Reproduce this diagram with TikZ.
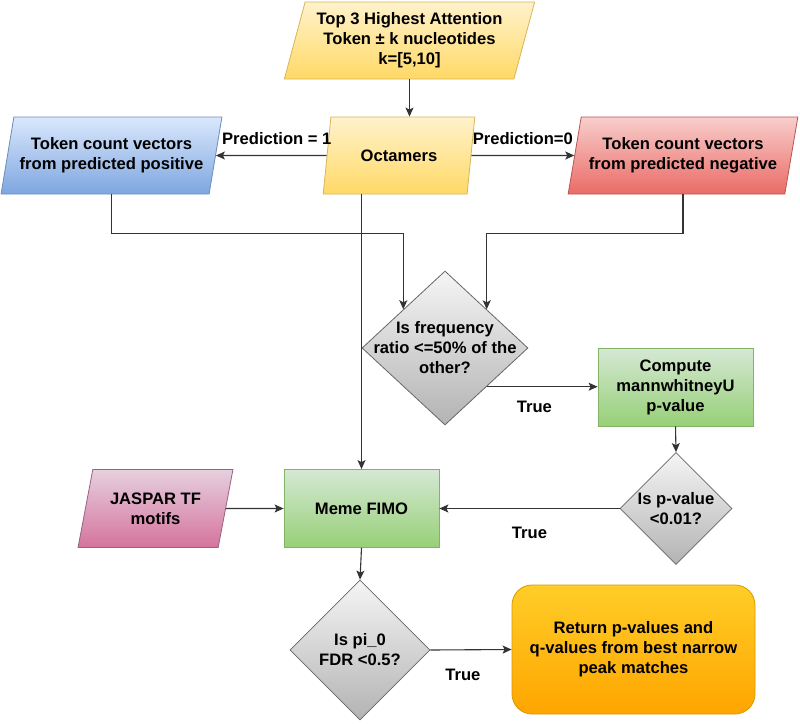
\documentclass[tikz,border=0pt]{standalone}
\usepackage{fontspec}
\setmainfont{Liberation Sans}
\usetikzlibrary{shapes.geometric}
\usetikzlibrary{arrows.meta}
\definecolor{yelTop}{HTML}{FFF2CC}
\definecolor{yelBot}{HTML}{FFD966}
\definecolor{yelLine}{HTML}{D6B656}
\definecolor{bluTop}{HTML}{DAE8FC}
\definecolor{bluBot}{HTML}{7EA6E0}
\definecolor{bluLine}{HTML}{6C8EBF}
\definecolor{redTop}{HTML}{F8CECC}
\definecolor{redBot}{HTML}{EA6B66}
\definecolor{redLine}{HTML}{B85450}
\definecolor{grnTop}{HTML}{D5E8D4}
\definecolor{grnBot}{HTML}{97D077}
\definecolor{grnLine}{HTML}{82B366}
\definecolor{gryTop}{HTML}{F5F5F5}
\definecolor{gryBot}{HTML}{B3B3B3}
\definecolor{gryLine}{HTML}{666666}
\definecolor{pnkTop}{HTML}{E6D0DE}
\definecolor{pnkBot}{HTML}{D5739D}
\definecolor{pnkLine}{HTML}{996185}
\definecolor{orgTop}{HTML}{FFCD28}
\definecolor{orgBot}{HTML}{FFA500}
\definecolor{orgLine}{HTML}{D79B00}

\begin{document}
\begin{tikzpicture}[x=1pt,y=-1pt,
  font=\bfseries\fontsize{16.6}{20}\selectfont,
  box/.style={draw, line width=0.8pt, align=center, inner sep=1pt},
  io/.style={box, trapezium, trapezium left angle=72, trapezium right angle=108,
    trapezium stretches=true, minimum height=77},
  proc/.style={box, rectangle, minimum width=155, minimum height=78},
  decision/.style={draw=gryLine, line width=0.8pt, diamond, top color=gryTop,
    bottom color=gryBot, inner sep=0pt},
  yellow/.style={top color=yelTop, bottom color=yelBot, draw=yelLine},
  blue/.style={top color=bluTop, bottom color=bluBot, draw=bluLine},
  red/.style={top color=redTop, bottom color=redBot, draw=redLine},
  green/.style={top color=grnTop, bottom color=grnBot, draw=grnLine},
  pink/.style={top color=pnkTop, bottom color=pnkBot, draw=pnkLine},
  orange/.style={top color=orgTop, bottom color=orgBot, draw=orgLine},
  lbl/.style={inner sep=0pt, align=center},
  flow/.style={-{Stealth[length=9pt,width=8pt,inset=2pt]}, line width=1.1pt, draw=black!80}]
\useasboundingbox (0,0) rectangle (800,723);

\node [io, yellow, minimum width=251] (top) at (409.5,40.5) {Top 3 Highest Attention\\Token ± k nucleotides\\k=[5,10]};
\node [io, yellow, minimum width=152] (oct) at (399,155.5) {Octamers};
\node [io, blue, minimum width=221] (pos) at (111.5,155.5) {Token count vectors\\from predicted positive};
\node [io, red, minimum width=230] (neg) at (683,155.5) {Token count vectors\\from predicted negative};

\node [decision, minimum width=166, minimum height=154,
  label={[lbl]center:Is frequency\\ratio <=50\% of the\\other?}] (freq) at (445,348) {};
\node [proc, green] (mwu) at (675.5,387) {Compute\\mannwhitneyU\\p-value};
\node [decision, minimum width=112, minimum height=112,
  label={[lbl]center:Is p-value\\<0.01?}] (pval) at (676,508.5) {};

\node [proc, green] (fimo) at (361.5,508.5) {Meme FIMO};
\node [io, pink, minimum width=155, minimum height=78] (jaspar) at (155.5,508.5) {JASPAR TF\\motifs};
\node [decision, minimum width=140, minimum height=140,
  label={[lbl]center:Is pi\_0\\FDR <0.5?}] (fdr) at (360,650) {};
\node [proc, orange, rounded corners=20pt, minimum width=243, minimum height=129] (ret) at (633.5,649.5)
  {Return p-values and\\q-values from best narrow\\peak matches};

\draw [flow] (top.south) -- (top.south |- oct.north);
\draw [flow] (oct.west) -- (pos.east) node[pos=0.45, above=7pt] {Prediction = 1};
\draw [flow] (oct.east) -- (neg.west) node[pos=0.5, above=7pt] {Prediction=0};
\draw [flow] (pos.south) -- ++(0,39) -| (freq.north west);
\draw [flow] (neg.south) -- ++(0,39) -| (freq.north east);
\draw [flow] (oct.south -| fimo.north) -- (fimo.north);
\draw [flow] (freq.south east) -- (freq.south east -| mwu.west) node[pos=0.43, below=10pt] {True};
\draw [flow] (mwu.south) -- (pval.north);
\draw [flow] (pval.west) -- (fimo.east) node[midway, below=15pt] {True};
\draw [flow] (jaspar.east) -- (fimo.west);
\draw [flow] (fimo.south) -- (fdr.north);
\draw [flow] (fdr.east) -- (ret.west) node[pos=0.4, below=15pt] {True};

\end{tikzpicture}
\end{document}
